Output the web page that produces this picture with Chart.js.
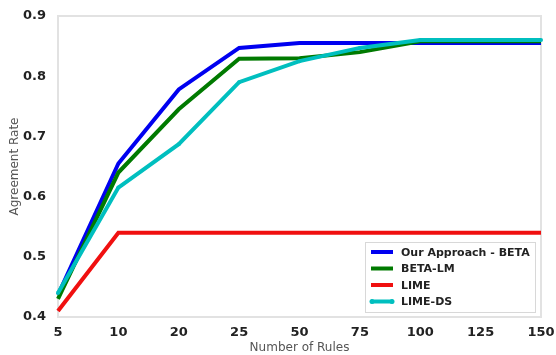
<!DOCTYPE html>
<html>
<head>
<meta charset="utf-8">
<script src="https://cdn.jsdelivr.net/npm/chart.js@4"></script>
<style>
    html, body { margin: 0; padding: 0; background: #fff; }
    #wrap { width: 556px; height: 355px; position: relative; }
</style>
</head>
<body>
<div id="wrap"><canvas id="rulesChart" width="556" height="355"></canvas></div>
<script>
// Data
const ruleCounts = ['5', '10', '20', '25', '50', '75', '100', '125', '150'];
const ourApproach = [0.437, 0.655, 0.778, 0.847, 0.855, 0.855, 0.855, 0.855, 0.855];
const betaLM = [0.430, 0.640, 0.745, 0.829, 0.830, 0.840, 0.858, 0.858, 0.858];
const lime = [0.410, 0.540, 0.540, 0.540, 0.540, 0.540, 0.540, 0.540, 0.540];
const limeDS = [0.440, 0.615, 0.687, 0.790, 0.825, 0.847, 0.860, 0.860, 0.860];
const yTicks = [0.4, 0.5, 0.6, 0.7, 0.8, 0.9];

const tickFont = { family: 'DejaVu Sans', size: 13, weight: 'bold' };
const titleFont = { family: 'DejaVu Sans', size: 12 };

const legendItems = [
    { label: 'Our Approach - BETA', color: '#0000f0', dots: false },
    { label: 'BETA-LM', color: '#007a00', dots: false },
    { label: 'LIME', color: '#f01010', dots: false },
    { label: 'LIME-DS', color: '#00bfbf', dots: true }
];

// frame around plot area + legend box in lower right
const framePlugin = {
    id: 'frame',
    beforeDatasetsDraw(chart) {
        const { ctx, chartArea: a } = chart;
        ctx.save();
        ctx.strokeStyle = '#e2e2e2';
        ctx.lineWidth = 2;
        ctx.strokeRect(a.left, a.top, a.right - a.left, a.bottom - a.top);
        ctx.restore();
    },
    afterDraw(chart) {
        const { ctx, chartArea: a } = chart;
        const w = 170, h = 70;
        const x = a.right - w - 6, y = a.bottom - h - 5;
        ctx.save();
        ctx.fillStyle = '#fff';
        ctx.fillRect(x, y, w, h);
        ctx.strokeStyle = '#d8d8d8';
        ctx.lineWidth = 1;
        ctx.strokeRect(x + 0.5, y + 0.5, w, h);
        ctx.font = 'bold 11px "DejaVu Sans"';
        ctx.textBaseline = 'middle';
        legendItems.forEach((item, i) => {
            const ly = y + 10 + i * 16.5;
            ctx.strokeStyle = item.color;
            ctx.lineWidth = 4;
            ctx.beginPath();
            ctx.moveTo(x + 6, ly);
            ctx.lineTo(x + 28, ly);
            ctx.stroke();
            if (item.dots) {
                ctx.fillStyle = item.color;
                [x + 7, x + 27].forEach(px => {
                    ctx.beginPath();
                    ctx.arc(px, ly, 2.5, 0, Math.PI * 2);
                    ctx.fill();
                });
            }
            ctx.fillStyle = '#222';
            ctx.fillText(item.label, x + 36, ly + 1);
        });
        ctx.restore();
    }
};

function lineSet(label, data, color, order, radius) {
    return {
        label: label,
        data: data,
        borderColor: color,
        backgroundColor: color,
        borderWidth: 4,
        pointRadius: radius,
        pointHoverRadius: radius,
        pointBorderWidth: 0,
        tension: 0,
        fill: false,
        order: order
    };
}

new Chart(document.getElementById('rulesChart'), {
    type: 'line',
    data: {
        labels: ruleCounts,
        datasets: [
            lineSet('Our Approach - BETA', ourApproach, '#0000f0', 3, 0),
            lineSet('BETA-LM', betaLM, '#007a00', 2, 0),
            lineSet('LIME', lime, '#f01010', 1, 0),
            lineSet('LIME-DS', limeDS, '#00bfbf', 0, 2)
        ]
    },
    options: {
        responsive: false,
        animation: false,
        layout: { padding: { top: 16, right: 15, left: 0, bottom: 0 } },
        plugins: {
            legend: { display: false },
            tooltip: { enabled: false }
        },
        scales: {
            x: {
                offset: false,
                grid: { display: false },
                border: { display: false },
                ticks: { color: '#222', font: tickFont, padding: 0, maxRotation: 0, autoSkip: false },
                title: { display: true, text: 'Number of Rules', color: '#555', font: titleFont, padding: { top: 0, bottom: 0 } },
                afterFit(scale) { scale.height = 38; }
            },
            y: {
                min: 0.4,
                max: 0.9,
                afterBuildTicks(scale) { scale.ticks = yTicks.map(v => ({ value: v })); },
                grid: { display: false },
                border: { display: false },
                ticks: {
                    color: '#222',
                    font: tickFont,
                    padding: 4,
                    callback: v => v.toFixed(1)
                },
                title: { display: true, text: 'Agreement Rate', color: '#555', font: titleFont, padding: { top: 8, bottom: 2 } },
                afterFit(scale) { scale.width = 58; }
            }
        }
    },
    plugins: [framePlugin]
});
</script>
</body>
</html>
